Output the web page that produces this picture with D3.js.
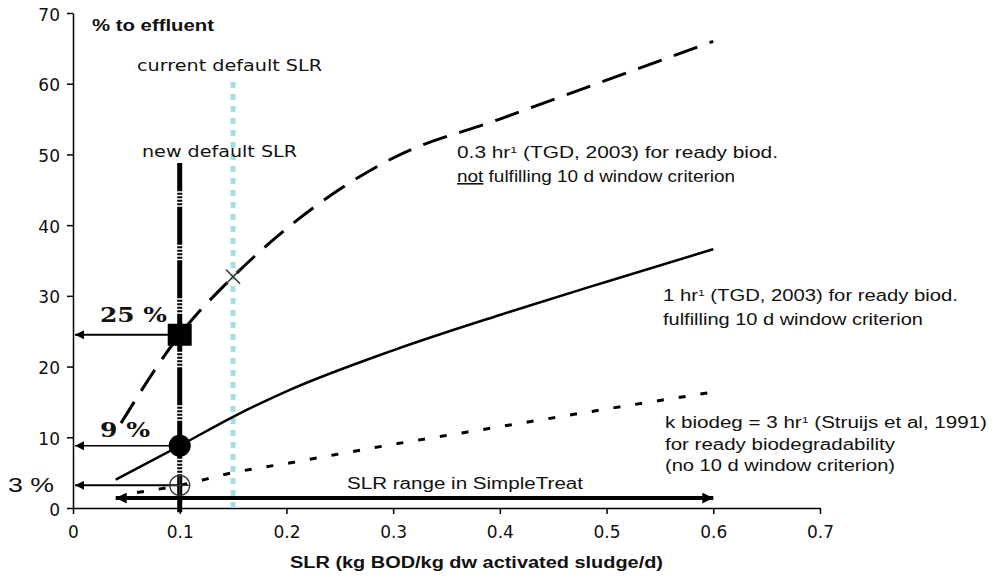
<!DOCTYPE html>
<meta charset="utf-8">
<style>
body { margin: 0; background: #fff; }
svg { font-family: "Liberation Sans", Arial, sans-serif; }
.axis path, .axis line { stroke: #000; stroke-width: 1.5; }
.axis text { font-family: "DejaVu Sans", sans-serif; fill: #111; }
</style>
<svg width="995" height="580"></svg>
<script src="https://cdn.jsdelivr.net/npm/d3@7"></script>
<script>

var svg = d3.select("svg");

// curves, % to effluent vs SLR
var slrSlow = [0.045, 0.1, 0.15, 0.2, 0.3, 0.4, 0.5, 0.6],
    effSlow = [12, 24.5, 32.7, 39.5, 49.5, 55, 60.5, 66];
var slrMid = [0.04, 0.1, 0.15, 0.2, 0.3, 0.4, 0.5, 0.6],
    effMid = [4.0, 8.8, 12.9, 16.5, 22.3, 27.3, 32.0, 36.6];
var slrFast = [0.06, 0.1, 0.15, 0.2, 0.3, 0.4, 0.5, 0.6],
    effFast = [2.2, 3.2, 5.0, 6.3, 9.0, 11.5, 14.0, 16.4];

var xTicks = [0, 0.1, 0.2, 0.3, 0.4, 0.5, 0.6, 0.7],
    yTicks = [0, 10, 20, 30, 40, 50, 60, 70];

var newSLR = 0.1, currentSLR = 0.15;
var readOffs = [24.5, 8.8, 3.2];       // values read at the new default SLR
var slrRange = [0.04, 0.6], slrRangeY = 1.4;

var x = d3.scaleLinear().domain([0, 0.7]).range([73, 820]);
var y = d3.scaleLinear().domain([0, 70]).range([508, 13]);

// arrow heads
var defs = svg.append("defs");
function head(id, w, h) {
  defs.append("marker")
      .attr("id", id)
      .attr("viewBox", "0 0 10 10")
      .attr("refX", 10).attr("refY", 5)
      .attr("markerUnits", "userSpaceOnUse")
      .attr("markerWidth", w).attr("markerHeight", h)
      .attr("orient", "auto-start-reverse")
    .append("path")
      .attr("d", "M0,0L10,5L0,10z")
      .attr("fill", "#000");
}
head("ah", 13, 9);
head("ahBig", 14, 11);

// axes
svg.append("g")
    .attr("class", "axis")
    .attr("transform", "translate(73,0)")
    .call(d3.axisLeft(y).tickValues(yTicks).tickSize(6).tickPadding(7).tickSizeOuter(0))
    .selectAll("text").attr("font-size", 17).attr("dy", "0.42em");

svg.append("g")
    .attr("class", "axis")
    .attr("transform", "translate(0,508)")
    .call(d3.axisBottom(x).tickValues(xTicks).tickSize(6).tickPadding(12).tickSizeOuter(0)
      .tickFormat(function(d) { return d === 0 ? "0" : d3.format(".1f")(d); }))
    .selectAll("text").attr("font-size", 17);

// vertical markers for the default SLRs
svg.append("line")
    .attr("x1", x(currentSLR)).attr("x2", x(currentSLR))
    .attr("y1", y(0)).attr("y2", y(60.8))
    .attr("stroke", "#a6dde0")
    .attr("stroke-width", 5)
    .attr("stroke-dasharray", "6,6");

svg.append("line")
    .attr("x1", x(newSLR)).attr("x2", x(newSLR))
    .attr("y1", y(-0.6)).attr("y2", y(48.8))
    .attr("stroke", "#000")
    .attr("stroke-width", 5)
    .attr("stroke-dasharray", "38,1.5,2,1.5,2,1.5,2,1.5,2,1.5");

// curves
var line = d3.line()
    .x(function(d) { return x(d[0]); })
    .y(function(d) { return y(d[1]); })
    .curve(d3.curveMonotoneX);

var curves = [
  {xs: slrSlow, ys: effSlow, width: 3, dash: "25,13"},
  {xs: slrMid, ys: effMid, width: 2.5, dash: null},
  {xs: slrFast, ys: effFast, width: 3, dash: "7,15"}
];

svg.selectAll(".curve")
  .data(curves)
  .enter().append("path")
    .attr("class", "curve")
    .attr("fill", "none")
    .attr("stroke", "#000")
    .attr("stroke-width", function(d) { return d.width; })
    .attr("stroke-dasharray", function(d) { return d.dash; })
    .attr("d", function(d) { return line(d3.zip(d.xs, d.ys)); });

// read-off arrows to the y axis
svg.selectAll(".readoff")
  .data(readOffs)
  .enter().append("line")
    .attr("class", "readoff")
    .attr("x1", x(newSLR)).attr("x2", x(0) + 2)
    .attr("y1", function(d) { return y(d); })
    .attr("y2", function(d) { return y(d); })
    .attr("stroke", "#000")
    .attr("stroke-width", function(d, i) { return i === 1 ? 1.5 : 2; })
    .attr("marker-end", "url(#ah)");

// SLR range arrow
svg.append("line")
    .attr("x1", x(slrRange[0])).attr("x2", x(slrRange[1]))
    .attr("y1", y(slrRangeY)).attr("y2", y(slrRangeY))
    .attr("stroke", "#000")
    .attr("stroke-width", 4)
    .attr("marker-start", "url(#ahBig)")
    .attr("marker-end", "url(#ahBig)");

// point markers
svg.append("rect")
    .attr("x", x(newSLR) - 12).attr("y", y(readOffs[0]) - 11)
    .attr("width", 24).attr("height", 22)
    .attr("fill", "#000");

svg.append("circle")
    .attr("cx", x(newSLR)).attr("cy", y(readOffs[1]))
    .attr("r", 11).attr("fill", "#000");

var oc = svg.append("g")
    .attr("transform", "translate(" + x(newSLR) + "," + y(readOffs[2]) + ")");
oc.append("circle").attr("r", 10).attr("fill", "none").attr("stroke", "#333").attr("stroke-width", 1.3);
oc.append("path").attr("d", "M-10,0H10M0,-10V10").attr("stroke", "#333").attr("stroke-width", 1.3);

svg.append("path")
    .attr("transform", "translate(" + x(currentSLR) + "," + y(32.7) + ")")
    .attr("d", "M-7,-7L7,7M-7,7L7,-7")
    .attr("stroke", "#333")
    .attr("stroke-width", 1.5);

// texts
function label(x0, y0, len, size, parts, opts) {
  opts = opts || {};
  var t = svg.append("text")
      .attr("x", x0).attr("y", y0)
      .attr("font-size", size)
      .attr("fill", "#111")
      .attr("textLength", len)
      .attr("lengthAdjust", "spacingAndGlyphs");
  if (opts.bold) t.attr("font-weight", "bold");
  if (opts.family) t.attr("font-family", opts.family);
  parts.forEach(function(p) {
    if (typeof p === "string") { t.append("tspan").text(p); return; }
    var s = t.append("tspan").text(p.text);
    if (p.sup) s.attr("baseline-shift", "super").attr("font-size", size * 0.6);
    if (p.under) s.attr("text-decoration", "underline");
  });
  return t;
}

var sup = {text: "1", sup: true};

label(92, 31, 122, 16, ["% to effluent"], {bold: true});
label(137, 71, 185, 16, ["current default SLR"], {family: "DejaVu Sans"});
label(142, 157, 155, 16, ["new default SLR"], {family: "DejaVu Sans"});

label(457, 158, 321, 16, ["0.3 hr", sup, " (TGD, 2003) for ready biod."]);
label(457, 182, 278, 16, [{text: "not", under: true}, " fulfilling 10 d window criterion"]);

label(663, 301, 295, 16, ["1 hr", sup, " (TGD, 2003) for ready biod."]);
label(663, 325, 260, 16, ["fulfilling 10 d window criterion"]);

label(665, 428, 322, 16, ["k biodeg = 3 hr", sup, " (Struijs et al, 1991)"]);
label(665, 450, 230, 16, ["for ready biodegradability"]);
label(665, 471, 230, 16, ["(no 10 d window criterion)"]);

label(347, 489, 236, 16, ["SLR range in SimpleTreat"]);

label(100, 322, 67, 20, ["25 %"], {bold: true, family: "DejaVu Serif"});
label(100, 437, 50, 20, ["9 %"], {bold: true, family: "DejaVu Serif"});
label(8, 492, 46, 20, ["3 %"]);

label(290, 568, 373, 16, ["SLR (kg BOD/kg dw activated sludge/d)"], {bold: true});

</script>
